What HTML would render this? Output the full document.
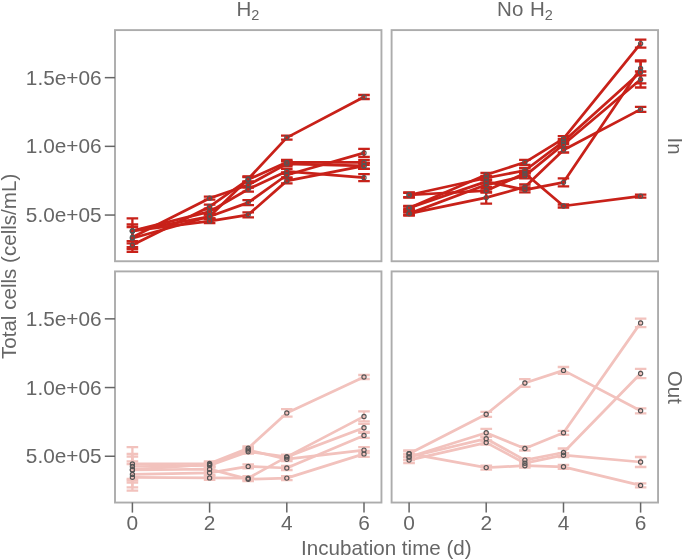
<!DOCTYPE html>
<html><head><meta charset="utf-8"><style>
html,body{margin:0;padding:0;background:#fff;}
svg{display:block;will-change:transform;}
text{font-family:"Liberation Sans",sans-serif;font-size:20.5px;fill:#666666;}
</style></head><body>
<svg width="685" height="560" viewBox="0 0 685 560">
<rect x="115.0" y="30.1" width="266.45" height="231.15" fill="none" stroke="#acacac" stroke-width="1.9"/>
<rect x="391.6" y="30.1" width="266.45" height="231.15" fill="none" stroke="#acacac" stroke-width="1.9"/>
<rect x="115.0" y="271.4" width="266.45" height="231.15" fill="none" stroke="#acacac" stroke-width="1.9"/>
<rect x="391.6" y="271.4" width="266.45" height="231.15" fill="none" stroke="#acacac" stroke-width="1.9"/>
<polyline points="132.4,238.2 209.6,216.5 248.2,179.0 286.8,137.6 364.0,97.0" fill="none" stroke="#c82119" stroke-width="2.75" stroke-linejoin="round"/>
<polyline points="132.4,230.9 209.6,216.5 248.2,202.6 286.8,175.0 364.0,152.9" fill="none" stroke="#c82119" stroke-width="2.75" stroke-linejoin="round"/>
<polyline points="132.4,245.1 209.6,206.7 248.2,179.5 286.8,162.3 364.0,162.3" fill="none" stroke="#c82119" stroke-width="2.75" stroke-linejoin="round"/>
<polyline points="132.4,237.2 209.6,198.2 248.2,185.0 286.8,163.9 364.0,165.9" fill="none" stroke="#c82119" stroke-width="2.75" stroke-linejoin="round"/>
<polyline points="132.4,230.9 209.6,211.6 248.2,189.2 286.8,171.3 364.0,177.7" fill="none" stroke="#c82119" stroke-width="2.75" stroke-linejoin="round"/>
<polyline points="132.4,230.9 209.6,221.2 248.2,214.8 286.8,180.9 364.0,165.9" fill="none" stroke="#c82119" stroke-width="2.75" stroke-linejoin="round"/>
<path d="M126.6,224.5H138.2M132.4,224.5V251.9M126.6,251.9H138.2" stroke="#c82119" stroke-width="2.3" fill="none"/>
<path d="M203.8,214.5H215.4M209.6,214.5V218.5M203.8,218.5H215.4" stroke="#c82119" stroke-width="2.3" fill="none"/>
<path d="M242.4,176.5H254.0M248.2,176.5V181.5M242.4,181.5H254.0" stroke="#c82119" stroke-width="2.3" fill="none"/>
<path d="M281.0,135.6H292.6M286.8,135.6V139.6M281.0,139.6H292.6" stroke="#c82119" stroke-width="2.3" fill="none"/>
<path d="M358.2,95.0H369.8M364.0,95.0V99.0M358.2,99.0H369.8" stroke="#c82119" stroke-width="2.3" fill="none"/>
<path d="M126.6,218.4H138.2M132.4,218.4V243.4M126.6,243.4H138.2" stroke="#c82119" stroke-width="2.3" fill="none"/>
<path d="M203.8,214.5H215.4M209.6,214.5V218.5M203.8,218.5H215.4" stroke="#c82119" stroke-width="2.3" fill="none"/>
<path d="M242.4,200.1H254.0M248.2,200.1V205.1M242.4,205.1H254.0" stroke="#c82119" stroke-width="2.3" fill="none"/>
<path d="M281.0,172.5H292.6M286.8,172.5V177.5M281.0,177.5H292.6" stroke="#c82119" stroke-width="2.3" fill="none"/>
<path d="M358.2,148.9H369.8M364.0,148.9V156.9M358.2,156.9H369.8" stroke="#c82119" stroke-width="2.3" fill="none"/>
<path d="M126.6,241.1H138.2M132.4,241.1V249.1M126.6,249.1H138.2" stroke="#c82119" stroke-width="2.3" fill="none"/>
<path d="M203.8,204.7H215.4M209.6,204.7V208.7M203.8,208.7H215.4" stroke="#c82119" stroke-width="2.3" fill="none"/>
<path d="M242.4,177.0H254.0M248.2,177.0V182.0M242.4,182.0H254.0" stroke="#c82119" stroke-width="2.3" fill="none"/>
<path d="M281.0,159.8H292.6M286.8,159.8V164.8M281.0,164.8H292.6" stroke="#c82119" stroke-width="2.3" fill="none"/>
<path d="M358.2,159.8H369.8M364.0,159.8V164.8M358.2,164.8H369.8" stroke="#c82119" stroke-width="2.3" fill="none"/>
<path d="M126.6,227.2H138.2M132.4,227.2V247.2M126.6,247.2H138.2" stroke="#c82119" stroke-width="2.3" fill="none"/>
<path d="M203.8,196.7H215.4M209.6,196.7V199.7M203.8,199.7H215.4" stroke="#c82119" stroke-width="2.3" fill="none"/>
<path d="M242.4,182.5H254.0M248.2,182.5V187.5M242.4,187.5H254.0" stroke="#c82119" stroke-width="2.3" fill="none"/>
<path d="M281.0,161.4H292.6M286.8,161.4V166.4M281.0,166.4H292.6" stroke="#c82119" stroke-width="2.3" fill="none"/>
<path d="M358.2,162.9H369.8M364.0,162.9V168.9M358.2,168.9H369.8" stroke="#c82119" stroke-width="2.3" fill="none"/>
<path d="M203.8,209.6H215.4M209.6,209.6V213.6M203.8,213.6H215.4" stroke="#c82119" stroke-width="2.3" fill="none"/>
<path d="M242.4,186.7H254.0M248.2,186.7V191.7M242.4,191.7H254.0" stroke="#c82119" stroke-width="2.3" fill="none"/>
<path d="M281.0,168.8H292.6M286.8,168.8V173.8M281.0,173.8H292.6" stroke="#c82119" stroke-width="2.3" fill="none"/>
<path d="M358.2,174.2H369.8M364.0,174.2V181.2M358.2,181.2H369.8" stroke="#c82119" stroke-width="2.3" fill="none"/>
<path d="M203.8,219.2H215.4M209.6,219.2V223.2M203.8,223.2H215.4" stroke="#c82119" stroke-width="2.3" fill="none"/>
<path d="M242.4,212.3H254.0M248.2,212.3V217.3M242.4,217.3H254.0" stroke="#c82119" stroke-width="2.3" fill="none"/>
<path d="M281.0,178.4H292.6M286.8,178.4V183.4M281.0,183.4H292.6" stroke="#c82119" stroke-width="2.3" fill="none"/>
<path d="M358.2,162.9H369.8M364.0,162.9V168.9M358.2,168.9H369.8" stroke="#c82119" stroke-width="2.3" fill="none"/>
<circle cx="132.4" cy="238.2" r="2.1" fill="none" stroke="#555555" stroke-width="1.15"/>
<circle cx="209.6" cy="216.5" r="2.1" fill="none" stroke="#555555" stroke-width="1.15"/>
<circle cx="248.2" cy="179.0" r="2.1" fill="none" stroke="#555555" stroke-width="1.15"/>
<circle cx="286.8" cy="137.6" r="2.1" fill="none" stroke="#555555" stroke-width="1.15"/>
<circle cx="364.0" cy="97.0" r="2.1" fill="none" stroke="#555555" stroke-width="1.15"/>
<circle cx="132.4" cy="230.9" r="2.1" fill="none" stroke="#555555" stroke-width="1.15"/>
<circle cx="209.6" cy="216.5" r="2.1" fill="none" stroke="#555555" stroke-width="1.15"/>
<circle cx="248.2" cy="202.6" r="2.1" fill="none" stroke="#555555" stroke-width="1.15"/>
<circle cx="286.8" cy="175.0" r="2.1" fill="none" stroke="#555555" stroke-width="1.15"/>
<circle cx="364.0" cy="152.9" r="2.1" fill="none" stroke="#555555" stroke-width="1.15"/>
<circle cx="132.4" cy="245.1" r="2.1" fill="none" stroke="#555555" stroke-width="1.15"/>
<circle cx="209.6" cy="206.7" r="2.1" fill="none" stroke="#555555" stroke-width="1.15"/>
<circle cx="248.2" cy="179.5" r="2.1" fill="none" stroke="#555555" stroke-width="1.15"/>
<circle cx="286.8" cy="162.3" r="2.1" fill="none" stroke="#555555" stroke-width="1.15"/>
<circle cx="364.0" cy="162.3" r="2.1" fill="none" stroke="#555555" stroke-width="1.15"/>
<circle cx="132.4" cy="237.2" r="2.1" fill="none" stroke="#555555" stroke-width="1.15"/>
<circle cx="209.6" cy="198.2" r="2.1" fill="none" stroke="#555555" stroke-width="1.15"/>
<circle cx="248.2" cy="185.0" r="2.1" fill="none" stroke="#555555" stroke-width="1.15"/>
<circle cx="286.8" cy="163.9" r="2.1" fill="none" stroke="#555555" stroke-width="1.15"/>
<circle cx="364.0" cy="165.9" r="2.1" fill="none" stroke="#555555" stroke-width="1.15"/>
<circle cx="132.4" cy="230.9" r="2.1" fill="none" stroke="#555555" stroke-width="1.15"/>
<circle cx="209.6" cy="211.6" r="2.1" fill="none" stroke="#555555" stroke-width="1.15"/>
<circle cx="248.2" cy="189.2" r="2.1" fill="none" stroke="#555555" stroke-width="1.15"/>
<circle cx="286.8" cy="171.3" r="2.1" fill="none" stroke="#555555" stroke-width="1.15"/>
<circle cx="364.0" cy="177.7" r="2.1" fill="none" stroke="#555555" stroke-width="1.15"/>
<circle cx="132.4" cy="230.9" r="2.1" fill="none" stroke="#555555" stroke-width="1.15"/>
<circle cx="209.6" cy="221.2" r="2.1" fill="none" stroke="#555555" stroke-width="1.15"/>
<circle cx="248.2" cy="214.8" r="2.1" fill="none" stroke="#555555" stroke-width="1.15"/>
<circle cx="286.8" cy="180.9" r="2.1" fill="none" stroke="#555555" stroke-width="1.15"/>
<circle cx="364.0" cy="165.9" r="2.1" fill="none" stroke="#555555" stroke-width="1.15"/>
<polyline points="409.1,207.9 486.2,174.8 524.9,162.3 563.5,138.7 640.6,43.6" fill="none" stroke="#c82119" stroke-width="2.75" stroke-linejoin="round"/>
<polyline points="409.1,195.0 486.2,178.0 524.9,170.5 563.5,141.6 640.6,71.9" fill="none" stroke="#c82119" stroke-width="2.75" stroke-linejoin="round"/>
<polyline points="409.1,195.0 486.2,190.7 524.9,173.3 563.5,206.0 640.6,196.2" fill="none" stroke="#c82119" stroke-width="2.75" stroke-linejoin="round"/>
<polyline points="409.1,213.6 486.2,184.8 524.9,175.9 563.5,144.5 640.6,79.5" fill="none" stroke="#c82119" stroke-width="2.75" stroke-linejoin="round"/>
<polyline points="409.1,213.6 486.2,197.6 524.9,187.0 563.5,150.0 640.6,109.4" fill="none" stroke="#c82119" stroke-width="2.75" stroke-linejoin="round"/>
<polyline points="409.1,207.9 486.2,181.6 524.9,189.9 563.5,182.3 640.6,68.3" fill="none" stroke="#c82119" stroke-width="2.75" stroke-linejoin="round"/>
<path d="M403.2,206.7H414.9M409.1,206.7V209.1M403.2,209.1H414.9" stroke="#c82119" stroke-width="2.3" fill="none"/>
<path d="M480.4,172.8H492.1M486.2,172.8V176.8M480.4,176.8H492.1" stroke="#c82119" stroke-width="2.3" fill="none"/>
<path d="M519.1,159.8H530.6M524.9,159.8V164.8M519.1,164.8H530.6" stroke="#c82119" stroke-width="2.3" fill="none"/>
<path d="M557.7,136.2H569.2M563.5,136.2V141.2M557.7,141.2H569.2" stroke="#c82119" stroke-width="2.3" fill="none"/>
<path d="M634.9,39.6H646.4M640.6,39.6V47.6M634.9,47.6H646.4" stroke="#c82119" stroke-width="2.3" fill="none"/>
<path d="M403.2,192.4H414.9M409.1,192.4V197.6M403.2,197.6H414.9" stroke="#c82119" stroke-width="2.3" fill="none"/>
<path d="M480.4,176.0H492.1M486.2,176.0V180.0M480.4,180.0H492.1" stroke="#c82119" stroke-width="2.3" fill="none"/>
<path d="M519.1,168.0H530.6M524.9,168.0V173.0M519.1,173.0H530.6" stroke="#c82119" stroke-width="2.3" fill="none"/>
<path d="M557.7,139.1H569.2M563.5,139.1V144.1M557.7,144.1H569.2" stroke="#c82119" stroke-width="2.3" fill="none"/>
<path d="M634.9,60.5H646.4M640.6,60.5V83.3M634.9,83.3H646.4" stroke="#c82119" stroke-width="2.3" fill="none"/>
<path d="M403.2,192.8H414.9M409.1,192.8V197.2M403.2,197.2H414.9" stroke="#c82119" stroke-width="2.3" fill="none"/>
<path d="M480.4,188.7H492.1M486.2,188.7V192.7M480.4,192.7H492.1" stroke="#c82119" stroke-width="2.3" fill="none"/>
<path d="M519.1,170.8H530.6M524.9,170.8V175.8M519.1,175.8H530.6" stroke="#c82119" stroke-width="2.3" fill="none"/>
<path d="M557.7,204.5H569.2M563.5,204.5V207.5M557.7,207.5H569.2" stroke="#c82119" stroke-width="2.3" fill="none"/>
<path d="M634.9,194.7H646.4M640.6,194.7V197.7M634.9,197.7H646.4" stroke="#c82119" stroke-width="2.3" fill="none"/>
<path d="M403.2,212.4H414.9M409.1,212.4V214.8M403.2,214.8H414.9" stroke="#c82119" stroke-width="2.3" fill="none"/>
<path d="M480.4,182.8H492.1M486.2,182.8V186.8M480.4,186.8H492.1" stroke="#c82119" stroke-width="2.3" fill="none"/>
<path d="M519.1,173.4H530.6M524.9,173.4V178.4M519.1,178.4H530.6" stroke="#c82119" stroke-width="2.3" fill="none"/>
<path d="M557.7,142.0H569.2M563.5,142.0V147.0M557.7,147.0H569.2" stroke="#c82119" stroke-width="2.3" fill="none"/>
<path d="M634.9,71.5H646.4M640.6,71.5V87.5M634.9,87.5H646.4" stroke="#c82119" stroke-width="2.3" fill="none"/>
<path d="M403.2,211.7H414.9M409.1,211.7V215.5M403.2,215.5H414.9" stroke="#c82119" stroke-width="2.3" fill="none"/>
<path d="M480.4,191.6H492.1M486.2,191.6V203.6M480.4,203.6H492.1" stroke="#c82119" stroke-width="2.3" fill="none"/>
<path d="M519.1,184.5H530.6M524.9,184.5V189.5M519.1,189.5H530.6" stroke="#c82119" stroke-width="2.3" fill="none"/>
<path d="M557.7,147.5H569.2M563.5,147.5V152.5M557.7,152.5H569.2" stroke="#c82119" stroke-width="2.3" fill="none"/>
<path d="M634.9,106.9H646.4M640.6,106.9V111.9M634.9,111.9H646.4" stroke="#c82119" stroke-width="2.3" fill="none"/>
<path d="M403.2,206.0H414.9M409.1,206.0V209.8M403.2,209.8H414.9" stroke="#c82119" stroke-width="2.3" fill="none"/>
<path d="M480.4,179.6H492.1M486.2,179.6V183.6M480.4,183.6H492.1" stroke="#c82119" stroke-width="2.3" fill="none"/>
<path d="M519.1,187.4H530.6M524.9,187.4V192.4M519.1,192.4H530.6" stroke="#c82119" stroke-width="2.3" fill="none"/>
<path d="M557.7,178.3H569.2M563.5,178.3V186.3M557.7,186.3H569.2" stroke="#c82119" stroke-width="2.3" fill="none"/>
<path d="M634.9,61.3H646.4M640.6,61.3V75.3M634.9,75.3H646.4" stroke="#c82119" stroke-width="2.3" fill="none"/>
<circle cx="409.1" cy="207.9" r="2.1" fill="none" stroke="#555555" stroke-width="1.15"/>
<circle cx="486.2" cy="174.8" r="2.1" fill="none" stroke="#555555" stroke-width="1.15"/>
<circle cx="524.9" cy="162.3" r="2.1" fill="none" stroke="#555555" stroke-width="1.15"/>
<circle cx="563.5" cy="138.7" r="2.1" fill="none" stroke="#555555" stroke-width="1.15"/>
<circle cx="640.6" cy="43.6" r="2.1" fill="none" stroke="#555555" stroke-width="1.15"/>
<circle cx="409.1" cy="195.0" r="2.1" fill="none" stroke="#555555" stroke-width="1.15"/>
<circle cx="486.2" cy="178.0" r="2.1" fill="none" stroke="#555555" stroke-width="1.15"/>
<circle cx="524.9" cy="170.5" r="2.1" fill="none" stroke="#555555" stroke-width="1.15"/>
<circle cx="563.5" cy="141.6" r="2.1" fill="none" stroke="#555555" stroke-width="1.15"/>
<circle cx="640.6" cy="71.9" r="2.1" fill="none" stroke="#555555" stroke-width="1.15"/>
<circle cx="409.1" cy="195.0" r="2.1" fill="none" stroke="#555555" stroke-width="1.15"/>
<circle cx="486.2" cy="190.7" r="2.1" fill="none" stroke="#555555" stroke-width="1.15"/>
<circle cx="524.9" cy="173.3" r="2.1" fill="none" stroke="#555555" stroke-width="1.15"/>
<circle cx="563.5" cy="206.0" r="2.1" fill="none" stroke="#555555" stroke-width="1.15"/>
<circle cx="640.6" cy="196.2" r="2.1" fill="none" stroke="#555555" stroke-width="1.15"/>
<circle cx="409.1" cy="213.6" r="2.1" fill="none" stroke="#555555" stroke-width="1.15"/>
<circle cx="486.2" cy="184.8" r="2.1" fill="none" stroke="#555555" stroke-width="1.15"/>
<circle cx="524.9" cy="175.9" r="2.1" fill="none" stroke="#555555" stroke-width="1.15"/>
<circle cx="563.5" cy="144.5" r="2.1" fill="none" stroke="#555555" stroke-width="1.15"/>
<circle cx="640.6" cy="79.5" r="2.1" fill="none" stroke="#555555" stroke-width="1.15"/>
<circle cx="409.1" cy="213.6" r="2.1" fill="none" stroke="#555555" stroke-width="1.15"/>
<circle cx="486.2" cy="197.6" r="2.1" fill="none" stroke="#555555" stroke-width="1.15"/>
<circle cx="524.9" cy="187.0" r="2.1" fill="none" stroke="#555555" stroke-width="1.15"/>
<circle cx="563.5" cy="150.0" r="2.1" fill="none" stroke="#555555" stroke-width="1.15"/>
<circle cx="640.6" cy="109.4" r="2.1" fill="none" stroke="#555555" stroke-width="1.15"/>
<circle cx="409.1" cy="207.9" r="2.1" fill="none" stroke="#555555" stroke-width="1.15"/>
<circle cx="486.2" cy="181.6" r="2.1" fill="none" stroke="#555555" stroke-width="1.15"/>
<circle cx="524.9" cy="189.9" r="2.1" fill="none" stroke="#555555" stroke-width="1.15"/>
<circle cx="563.5" cy="182.3" r="2.1" fill="none" stroke="#555555" stroke-width="1.15"/>
<circle cx="640.6" cy="68.3" r="2.1" fill="none" stroke="#555555" stroke-width="1.15"/>
<polyline points="132.4,463.9 209.6,463.5 248.2,448.3 286.8,412.9 364.0,377.0" fill="none" stroke="#f2c2bd" stroke-width="2.75" stroke-linejoin="round"/>
<polyline points="132.4,466.5 209.6,465.5 248.2,451.7 286.8,456.9 364.0,427.8" fill="none" stroke="#f2c2bd" stroke-width="2.75" stroke-linejoin="round"/>
<polyline points="132.4,469.7 209.6,464.5 248.2,450.0 286.8,459.2 364.0,450.1" fill="none" stroke="#f2c2bd" stroke-width="2.75" stroke-linejoin="round"/>
<polyline points="132.4,477.3 209.6,477.9 248.2,478.2 286.8,456.9 364.0,416.4" fill="none" stroke="#f2c2bd" stroke-width="2.75" stroke-linejoin="round"/>
<polyline points="132.4,474.4 209.6,472.8 248.2,466.4 286.8,468.0 364.0,435.4" fill="none" stroke="#f2c2bd" stroke-width="2.75" stroke-linejoin="round"/>
<polyline points="132.4,470.0 209.6,469.2 248.2,479.2 286.8,478.1 364.0,453.9" fill="none" stroke="#f2c2bd" stroke-width="2.75" stroke-linejoin="round"/>
<path d="M126.6,447.1H138.2M132.4,447.1V480.7M126.6,480.7H138.2" stroke="#f2c2bd" stroke-width="2.3" fill="none"/>
<path d="M203.8,461.5H215.4M209.6,461.5V465.5M203.8,465.5H215.4" stroke="#f2c2bd" stroke-width="2.3" fill="none"/>
<path d="M242.4,446.3H254.0M248.2,446.3V450.3M242.4,450.3H254.0" stroke="#f2c2bd" stroke-width="2.3" fill="none"/>
<path d="M281.0,409.1H292.6M286.8,409.1V416.7M281.0,416.7H292.6" stroke="#f2c2bd" stroke-width="2.3" fill="none"/>
<path d="M358.2,375.0H369.8M364.0,375.0V379.0M358.2,379.0H369.8" stroke="#f2c2bd" stroke-width="2.3" fill="none"/>
<path d="M126.6,454.0H138.2M132.4,454.0V479.0M126.6,479.0H138.2" stroke="#f2c2bd" stroke-width="2.3" fill="none"/>
<path d="M203.8,463.5H215.4M209.6,463.5V467.5M203.8,467.5H215.4" stroke="#f2c2bd" stroke-width="2.3" fill="none"/>
<path d="M242.4,449.7H254.0M248.2,449.7V453.7M242.4,453.7H254.0" stroke="#f2c2bd" stroke-width="2.3" fill="none"/>
<path d="M281.0,454.9H292.6M286.8,454.9V458.9M281.0,458.9H292.6" stroke="#f2c2bd" stroke-width="2.3" fill="none"/>
<path d="M358.2,423.8H369.8M364.0,423.8V431.8M358.2,431.8H369.8" stroke="#f2c2bd" stroke-width="2.3" fill="none"/>
<path d="M126.6,456.7H138.2M132.4,456.7V482.7M126.6,482.7H138.2" stroke="#f2c2bd" stroke-width="2.3" fill="none"/>
<path d="M203.8,462.5H215.4M209.6,462.5V466.5M203.8,466.5H215.4" stroke="#f2c2bd" stroke-width="2.3" fill="none"/>
<path d="M242.4,448.0H254.0M248.2,448.0V452.0M242.4,452.0H254.0" stroke="#f2c2bd" stroke-width="2.3" fill="none"/>
<path d="M281.0,457.2H292.6M286.8,457.2V461.2M281.0,461.2H292.6" stroke="#f2c2bd" stroke-width="2.3" fill="none"/>
<path d="M358.2,447.1H369.8M364.0,447.1V453.1M358.2,453.1H369.8" stroke="#f2c2bd" stroke-width="2.3" fill="none"/>
<path d="M126.6,464.0H138.2M132.4,464.0V490.6M126.6,490.6H138.2" stroke="#f2c2bd" stroke-width="2.3" fill="none"/>
<path d="M203.8,475.9H215.4M209.6,475.9V479.9M203.8,479.9H215.4" stroke="#f2c2bd" stroke-width="2.3" fill="none"/>
<path d="M242.4,476.2H254.0M248.2,476.2V480.2M242.4,480.2H254.0" stroke="#f2c2bd" stroke-width="2.3" fill="none"/>
<path d="M281.0,454.9H292.6M286.8,454.9V458.9M281.0,458.9H292.6" stroke="#f2c2bd" stroke-width="2.3" fill="none"/>
<path d="M358.2,411.4H369.8M364.0,411.4V421.4M358.2,421.4H369.8" stroke="#f2c2bd" stroke-width="2.3" fill="none"/>
<path d="M126.6,461.4H138.2M132.4,461.4V487.4M126.6,487.4H138.2" stroke="#f2c2bd" stroke-width="2.3" fill="none"/>
<path d="M203.8,470.8H215.4M209.6,470.8V474.8M203.8,474.8H215.4" stroke="#f2c2bd" stroke-width="2.3" fill="none"/>
<path d="M242.4,464.4H254.0M248.2,464.4V468.4M242.4,468.4H254.0" stroke="#f2c2bd" stroke-width="2.3" fill="none"/>
<path d="M281.0,466.0H292.6M286.8,466.0V470.0M281.0,470.0H292.6" stroke="#f2c2bd" stroke-width="2.3" fill="none"/>
<path d="M358.2,432.9H369.8M364.0,432.9V437.9M358.2,437.9H369.8" stroke="#f2c2bd" stroke-width="2.3" fill="none"/>
<path d="M203.8,467.2H215.4M209.6,467.2V471.2M203.8,471.2H215.4" stroke="#f2c2bd" stroke-width="2.3" fill="none"/>
<path d="M242.4,477.2H254.0M248.2,477.2V481.2M242.4,481.2H254.0" stroke="#f2c2bd" stroke-width="2.3" fill="none"/>
<path d="M281.0,476.1H292.6M286.8,476.1V480.1M281.0,480.1H292.6" stroke="#f2c2bd" stroke-width="2.3" fill="none"/>
<path d="M358.2,450.9H369.8M364.0,450.9V456.9M358.2,456.9H369.8" stroke="#f2c2bd" stroke-width="2.3" fill="none"/>
<circle cx="132.4" cy="463.9" r="2.1" fill="none" stroke="#555555" stroke-width="1.15"/>
<circle cx="209.6" cy="463.5" r="2.1" fill="none" stroke="#555555" stroke-width="1.15"/>
<circle cx="248.2" cy="448.3" r="2.1" fill="none" stroke="#555555" stroke-width="1.15"/>
<circle cx="286.8" cy="412.9" r="2.1" fill="none" stroke="#555555" stroke-width="1.15"/>
<circle cx="364.0" cy="377.0" r="2.1" fill="none" stroke="#555555" stroke-width="1.15"/>
<circle cx="132.4" cy="466.5" r="2.1" fill="none" stroke="#555555" stroke-width="1.15"/>
<circle cx="209.6" cy="465.5" r="2.1" fill="none" stroke="#555555" stroke-width="1.15"/>
<circle cx="248.2" cy="451.7" r="2.1" fill="none" stroke="#555555" stroke-width="1.15"/>
<circle cx="286.8" cy="456.9" r="2.1" fill="none" stroke="#555555" stroke-width="1.15"/>
<circle cx="364.0" cy="427.8" r="2.1" fill="none" stroke="#555555" stroke-width="1.15"/>
<circle cx="132.4" cy="469.7" r="2.1" fill="none" stroke="#555555" stroke-width="1.15"/>
<circle cx="209.6" cy="464.5" r="2.1" fill="none" stroke="#555555" stroke-width="1.15"/>
<circle cx="248.2" cy="450.0" r="2.1" fill="none" stroke="#555555" stroke-width="1.15"/>
<circle cx="286.8" cy="459.2" r="2.1" fill="none" stroke="#555555" stroke-width="1.15"/>
<circle cx="364.0" cy="450.1" r="2.1" fill="none" stroke="#555555" stroke-width="1.15"/>
<circle cx="132.4" cy="477.3" r="2.1" fill="none" stroke="#555555" stroke-width="1.15"/>
<circle cx="209.6" cy="477.9" r="2.1" fill="none" stroke="#555555" stroke-width="1.15"/>
<circle cx="248.2" cy="478.2" r="2.1" fill="none" stroke="#555555" stroke-width="1.15"/>
<circle cx="286.8" cy="456.9" r="2.1" fill="none" stroke="#555555" stroke-width="1.15"/>
<circle cx="364.0" cy="416.4" r="2.1" fill="none" stroke="#555555" stroke-width="1.15"/>
<circle cx="132.4" cy="474.4" r="2.1" fill="none" stroke="#555555" stroke-width="1.15"/>
<circle cx="209.6" cy="472.8" r="2.1" fill="none" stroke="#555555" stroke-width="1.15"/>
<circle cx="248.2" cy="466.4" r="2.1" fill="none" stroke="#555555" stroke-width="1.15"/>
<circle cx="286.8" cy="468.0" r="2.1" fill="none" stroke="#555555" stroke-width="1.15"/>
<circle cx="364.0" cy="435.4" r="2.1" fill="none" stroke="#555555" stroke-width="1.15"/>
<circle cx="132.4" cy="470.0" r="2.1" fill="none" stroke="#555555" stroke-width="1.15"/>
<circle cx="209.6" cy="469.2" r="2.1" fill="none" stroke="#555555" stroke-width="1.15"/>
<circle cx="248.2" cy="479.2" r="2.1" fill="none" stroke="#555555" stroke-width="1.15"/>
<circle cx="286.8" cy="478.1" r="2.1" fill="none" stroke="#555555" stroke-width="1.15"/>
<circle cx="364.0" cy="453.9" r="2.1" fill="none" stroke="#555555" stroke-width="1.15"/>
<polyline points="409.1,453.7 486.2,414.2 524.9,383.0 563.5,370.4 640.6,410.8" fill="none" stroke="#f2c2bd" stroke-width="2.75" stroke-linejoin="round"/>
<polyline points="409.1,457.0 486.2,432.8 524.9,448.5 563.5,432.8 640.6,322.9" fill="none" stroke="#f2c2bd" stroke-width="2.75" stroke-linejoin="round"/>
<polyline points="409.1,457.0 486.2,438.7 524.9,460.1 563.5,452.5 640.6,373.5" fill="none" stroke="#f2c2bd" stroke-width="2.75" stroke-linejoin="round"/>
<polyline points="409.1,460.1 486.2,442.6 524.9,463.2 563.5,455.2 640.6,462.0" fill="none" stroke="#f2c2bd" stroke-width="2.75" stroke-linejoin="round"/>
<polyline points="409.1,453.7 486.2,467.6 524.9,465.7 563.5,466.8 640.6,485.4" fill="none" stroke="#f2c2bd" stroke-width="2.75" stroke-linejoin="round"/>
<path d="M403.2,450.7H414.9M409.1,450.7V456.7M403.2,456.7H414.9" stroke="#f2c2bd" stroke-width="2.3" fill="none"/>
<path d="M480.4,411.8H492.1M486.2,411.8V416.8M480.4,416.8H492.1" stroke="#f2c2bd" stroke-width="2.3" fill="none"/>
<path d="M519.1,379.1H530.6M524.9,379.1V386.9M519.1,386.9H530.6" stroke="#f2c2bd" stroke-width="2.3" fill="none"/>
<path d="M557.7,367.0H569.2M563.5,367.0V373.8M557.7,373.8H569.2" stroke="#f2c2bd" stroke-width="2.3" fill="none"/>
<path d="M634.9,408.3H646.4M640.6,408.3V413.3M634.9,413.3H646.4" stroke="#f2c2bd" stroke-width="2.3" fill="none"/>
<path d="M403.2,454.0H414.9M409.1,454.0V460.0M403.2,460.0H414.9" stroke="#f2c2bd" stroke-width="2.3" fill="none"/>
<path d="M480.4,428.8H492.1M486.2,428.8V436.8M480.4,436.8H492.1" stroke="#f2c2bd" stroke-width="2.3" fill="none"/>
<path d="M519.1,446.5H530.6M524.9,446.5V450.5M519.1,450.5H530.6" stroke="#f2c2bd" stroke-width="2.3" fill="none"/>
<path d="M557.7,430.8H569.2M563.5,430.8V434.8M557.7,434.8H569.2" stroke="#f2c2bd" stroke-width="2.3" fill="none"/>
<path d="M634.9,318.6H646.4M640.6,318.6V327.2M634.9,327.2H646.4" stroke="#f2c2bd" stroke-width="2.3" fill="none"/>
<path d="M403.2,454.0H414.9M409.1,454.0V460.0M403.2,460.0H414.9" stroke="#f2c2bd" stroke-width="2.3" fill="none"/>
<path d="M480.4,436.7H492.1M486.2,436.7V440.7M480.4,440.7H492.1" stroke="#f2c2bd" stroke-width="2.3" fill="none"/>
<path d="M519.1,458.1H530.6M524.9,458.1V462.1M519.1,462.1H530.6" stroke="#f2c2bd" stroke-width="2.3" fill="none"/>
<path d="M557.7,448.5H569.2M563.5,448.5V456.5M557.7,456.5H569.2" stroke="#f2c2bd" stroke-width="2.3" fill="none"/>
<path d="M634.9,368.8H646.4M640.6,368.8V378.2M634.9,378.2H646.4" stroke="#f2c2bd" stroke-width="2.3" fill="none"/>
<path d="M403.2,457.1H414.9M409.1,457.1V463.1M403.2,463.1H414.9" stroke="#f2c2bd" stroke-width="2.3" fill="none"/>
<path d="M480.4,440.6H492.1M486.2,440.6V444.6M480.4,444.6H492.1" stroke="#f2c2bd" stroke-width="2.3" fill="none"/>
<path d="M519.1,461.2H530.6M524.9,461.2V465.2M519.1,465.2H530.6" stroke="#f2c2bd" stroke-width="2.3" fill="none"/>
<path d="M557.7,453.2H569.2M563.5,453.2V457.2M557.7,457.2H569.2" stroke="#f2c2bd" stroke-width="2.3" fill="none"/>
<path d="M634.9,457.0H646.4M640.6,457.0V467.0M634.9,467.0H646.4" stroke="#f2c2bd" stroke-width="2.3" fill="none"/>
<path d="M403.2,450.7H414.9M409.1,450.7V456.7M403.2,456.7H414.9" stroke="#f2c2bd" stroke-width="2.3" fill="none"/>
<path d="M480.4,465.6H492.1M486.2,465.6V469.6M480.4,469.6H492.1" stroke="#f2c2bd" stroke-width="2.3" fill="none"/>
<path d="M519.1,463.7H530.6M524.9,463.7V467.7M519.1,467.7H530.6" stroke="#f2c2bd" stroke-width="2.3" fill="none"/>
<path d="M557.7,464.8H569.2M563.5,464.8V468.8M557.7,468.8H569.2" stroke="#f2c2bd" stroke-width="2.3" fill="none"/>
<path d="M634.9,483.4H646.4M640.6,483.4V487.4M634.9,487.4H646.4" stroke="#f2c2bd" stroke-width="2.3" fill="none"/>
<circle cx="409.1" cy="453.7" r="2.1" fill="none" stroke="#555555" stroke-width="1.15"/>
<circle cx="486.2" cy="414.2" r="2.1" fill="none" stroke="#555555" stroke-width="1.15"/>
<circle cx="524.9" cy="383.0" r="2.1" fill="none" stroke="#555555" stroke-width="1.15"/>
<circle cx="563.5" cy="370.4" r="2.1" fill="none" stroke="#555555" stroke-width="1.15"/>
<circle cx="640.6" cy="410.8" r="2.1" fill="none" stroke="#555555" stroke-width="1.15"/>
<circle cx="409.1" cy="457.0" r="2.1" fill="none" stroke="#555555" stroke-width="1.15"/>
<circle cx="486.2" cy="432.8" r="2.1" fill="none" stroke="#555555" stroke-width="1.15"/>
<circle cx="524.9" cy="448.5" r="2.1" fill="none" stroke="#555555" stroke-width="1.15"/>
<circle cx="563.5" cy="432.8" r="2.1" fill="none" stroke="#555555" stroke-width="1.15"/>
<circle cx="640.6" cy="322.9" r="2.1" fill="none" stroke="#555555" stroke-width="1.15"/>
<circle cx="409.1" cy="457.0" r="2.1" fill="none" stroke="#555555" stroke-width="1.15"/>
<circle cx="486.2" cy="438.7" r="2.1" fill="none" stroke="#555555" stroke-width="1.15"/>
<circle cx="524.9" cy="460.1" r="2.1" fill="none" stroke="#555555" stroke-width="1.15"/>
<circle cx="563.5" cy="452.5" r="2.1" fill="none" stroke="#555555" stroke-width="1.15"/>
<circle cx="640.6" cy="373.5" r="2.1" fill="none" stroke="#555555" stroke-width="1.15"/>
<circle cx="409.1" cy="460.1" r="2.1" fill="none" stroke="#555555" stroke-width="1.15"/>
<circle cx="486.2" cy="442.6" r="2.1" fill="none" stroke="#555555" stroke-width="1.15"/>
<circle cx="524.9" cy="463.2" r="2.1" fill="none" stroke="#555555" stroke-width="1.15"/>
<circle cx="563.5" cy="455.2" r="2.1" fill="none" stroke="#555555" stroke-width="1.15"/>
<circle cx="640.6" cy="462.0" r="2.1" fill="none" stroke="#555555" stroke-width="1.15"/>
<circle cx="409.1" cy="453.7" r="2.1" fill="none" stroke="#555555" stroke-width="1.15"/>
<circle cx="486.2" cy="467.6" r="2.1" fill="none" stroke="#555555" stroke-width="1.15"/>
<circle cx="524.9" cy="465.7" r="2.1" fill="none" stroke="#555555" stroke-width="1.15"/>
<circle cx="563.5" cy="466.8" r="2.1" fill="none" stroke="#555555" stroke-width="1.15"/>
<circle cx="640.6" cy="485.4" r="2.1" fill="none" stroke="#555555" stroke-width="1.15"/>
<line x1="104.8" y1="77.65" x2="115" y2="77.65" stroke="#666666" stroke-width="1.5"/>
<text x="101.6" y="84.65" text-anchor="end" style="font-size:20.8px">1.5e+06</text>
<line x1="104.8" y1="146.35" x2="115" y2="146.35" stroke="#666666" stroke-width="1.5"/>
<text x="101.6" y="153.35" text-anchor="end" style="font-size:20.8px">1.0e+06</text>
<line x1="104.8" y1="215.05" x2="115" y2="215.05" stroke="#666666" stroke-width="1.5"/>
<text x="101.6" y="222.05" text-anchor="end" style="font-size:20.8px">5.0e+05</text>
<line x1="104.8" y1="318.85" x2="115" y2="318.85" stroke="#666666" stroke-width="1.5"/>
<text x="101.6" y="325.85" text-anchor="end" style="font-size:20.8px">1.5e+06</text>
<line x1="104.8" y1="387.54999999999995" x2="115" y2="387.54999999999995" stroke="#666666" stroke-width="1.5"/>
<text x="101.6" y="394.54999999999995" text-anchor="end" style="font-size:20.8px">1.0e+06</text>
<line x1="104.8" y1="456.25" x2="115" y2="456.25" stroke="#666666" stroke-width="1.5"/>
<text x="101.6" y="463.25" text-anchor="end" style="font-size:20.8px">5.0e+05</text>
<line x1="132.4" y1="502.5" x2="132.4" y2="512.6" stroke="#666666" stroke-width="1.5"/>
<text x="132.4" y="530.2" text-anchor="middle" style="font-size:20.9px">0</text>
<line x1="209.6" y1="502.5" x2="209.6" y2="512.6" stroke="#666666" stroke-width="1.5"/>
<text x="209.6" y="530.2" text-anchor="middle" style="font-size:20.9px">2</text>
<line x1="286.8" y1="502.5" x2="286.8" y2="512.6" stroke="#666666" stroke-width="1.5"/>
<text x="286.8" y="530.2" text-anchor="middle" style="font-size:20.9px">4</text>
<line x1="364.0" y1="502.5" x2="364.0" y2="512.6" stroke="#666666" stroke-width="1.5"/>
<text x="364.0" y="530.2" text-anchor="middle" style="font-size:20.9px">6</text>
<line x1="409.1" y1="502.5" x2="409.1" y2="512.6" stroke="#666666" stroke-width="1.5"/>
<text x="409.1" y="530.2" text-anchor="middle" style="font-size:20.9px">0</text>
<line x1="486.2" y1="502.5" x2="486.2" y2="512.6" stroke="#666666" stroke-width="1.5"/>
<text x="486.2" y="530.2" text-anchor="middle" style="font-size:20.9px">2</text>
<line x1="563.5" y1="502.5" x2="563.5" y2="512.6" stroke="#666666" stroke-width="1.5"/>
<text x="563.5" y="530.2" text-anchor="middle" style="font-size:20.9px">4</text>
<line x1="640.6" y1="502.5" x2="640.6" y2="512.6" stroke="#666666" stroke-width="1.5"/>
<text x="640.6" y="530.2" text-anchor="middle" style="font-size:20.9px">6</text>
<text x="248" y="16.2" text-anchor="middle">H<tspan font-size="14.5" dy="3.5">2</tspan></text>
<text x="525" y="16.2" text-anchor="middle" word-spacing="1">No H<tspan font-size="14.5" dy="3.5">2</tspan></text>
<text transform="translate(668.45,146.1) rotate(90)" text-anchor="middle">In</text>
<text transform="translate(668.45,387.3) rotate(90)" text-anchor="middle">Out</text>
<text x="386.4" y="554.6" text-anchor="middle" style="font-size:20.6px">Incubation time (d)</text>
<text transform="translate(16.1,266.4) rotate(-90)" text-anchor="middle" style="font-size:20.6px">Total cells (cells/mL)</text>
</svg>
</body></html>
